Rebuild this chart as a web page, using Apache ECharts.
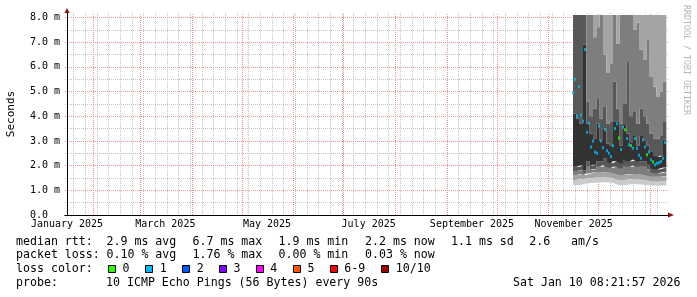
<!DOCTYPE html>
<html><head><meta charset="utf-8">
<script src="https://cdn.jsdelivr.net/npm/echarts@6/dist/echarts.min.js"></script>
<style>html,body{margin:0;padding:0;background:#fff}#c{width:697px;height:297px}</style>
</head><body><div id="c"></div>
<script>
// ---------- time reference ----------
const START = Date.UTC(2025, 0, 16);
const DAY = 86400000;
const dayOf = s => (Date.parse(s + 'T00:00:00Z') - START) / DAY;
const X_MAX = 360;                 // days shown
const msOf = d => START + d * DAY;

// ---------- tick labels ----------
const monthLabels = ['January 2025', 'March 2025', 'May 2025', 'July 2025', 'September 2025', 'November 2025'];
const monthLabelDates = ['2025-01-16', '2025-03-16', '2025-05-16', '2025-07-16', '2025-09-16', '2025-11-16'];
const monthStarts = ['2025-02-01', '2025-03-01', '2025-04-01', '2025-05-01', '2025-06-01', '2025-07-01',
  '2025-08-01', '2025-09-01', '2025-10-01', '2025-11-01', '2025-12-01', '2026-01-01'];
const firstMonday = '2025-01-20';
const yTicks = [0, 1, 2, 3, 4, 5, 6, 7, 8];
const yMinor = [0.5, 1.5, 2.5, 3.5, 4.5, 5.5, 6.5, 7.5];
const Y_MAX = 8.1;

// ---------- smoke (10 sorted pings per 2-day column, ms) ----------
const smokeStart = 303.6, smokeStep = 2;
const p1 = [1.22,1.22,1.22,1.25,1.28,1.30,1.30,1.32,1.32,1.33,1.33,1.32,1.30,1.25,1.22,1.22,1.22,1.25,1.25,1.25,1.25,1.23,1.22,1.20,1.19,1.18,1.18,1.19];
const p2 = [1.42,1.42,1.45,1.45,1.48,1.50,1.50,1.52,1.52,1.53,1.53,1.52,1.50,1.45,1.42,1.42,1.43,1.45,1.45,1.45,1.45,1.43,1.42,1.38,1.37,1.36,1.36,1.37];
const p3 = [1.62,1.62,1.65,1.62,1.68,1.70,1.72,1.72,1.72,1.73,1.73,1.72,1.70,1.66,1.62,1.62,1.64,1.66,1.66,1.65,1.65,1.63,1.60,1.57,1.55,1.55,1.55,1.57];
const p4 = [1.78,1.78,1.80,1.70,1.95,1.82,1.85,1.95,1.95,2.02,1.95,1.90,1.95,1.95,1.88,2.00,1.95,1.95,2.00,1.95,1.95,1.95,1.85,1.75,1.70,1.68,1.70,1.74];
const p5 = [1.95,1.95,2.00,1.80,2.18,2.00,2.04,2.18,2.18,2.30,2.18,2.10,2.18,2.18,2.10,2.25,2.18,2.18,2.25,2.18,2.18,2.18,2.04,1.92,1.86,1.84,1.88,1.92];
const p6 = [4.10,3.90,3.70,6.90,3.70,3.30,3.10,3.70,3.00,3.50,2.90,2.80,3.80,3.80,2.80,3.65,3.30,2.95,3.20,2.80,3.20,3.00,2.80,2.55,2.40,2.35,2.40,3.05];
const p7 = [8.30,8.30,8.30,8.30,4.60,4.00,4.30,4.70,3.90,4.40,3.70,3.80,5.40,4.30,3.70,4.50,6.20,4.00,4.20,3.70,4.30,4.00,3.70,3.30,3.10,3.10,3.20,3.80];
const p8 = [8.30,8.30,8.30,8.30,8.30,8.30,7.20,7.60,8.30,6.50,5.75,6.15,8.30,6.95,8.30,8.30,8.30,8.30,7.50,7.80,6.70,6.30,7.10,5.60,5.20,4.80,5.00,5.40];
const p9 = [8.35,8.35,8.35,8.35,8.35,8.35,8.35,8.35,8.35,8.35,8.35,8.35,8.35,8.35,8.35,8.35,8.35,8.35,8.35,8.35,8.35,8.35,8.35,8.35,8.35,8.35,8.35,8.35];
const p10 = [8.40,8.40,8.40,8.40,8.40,8.40,8.40,8.40,8.40,8.40,8.40,8.40,8.40,8.40,8.40,8.40,8.40,8.40,8.40,8.40,8.40,8.40,8.40,8.40,8.40,8.40,8.40,8.40];

// ---------- median rtt (ms) and loss class per 1.2-day step ----------
const medStart = 303.6, medStep = 1.2;
const median = [4.95,5.5,4.0,5.2,4.05,3.8,6.7,3.35,3.72,2.75,3.0,2.55,2.5,3.6,3.0,2.72,3.45,2.6,2.5,2.37,2.8,3.5,3.7,3.12,2.65,3.55,3.45,3.1,2.85,2.8,2.7,3.1,2.7,2.42,2.3,3.05,2.75,2.44,2.55,2.24,2.15,2.04,2.1,2.12,2.17,2.3,2.94];
const medianLoss = [1,1,1,1,1,1,1,1,1,1,1,1,1,1,1,1,1,1,1,1,1,1,1,0,1,1,0,1,1,0,1,1,1,1,1,1,1,0,1,1,0,1,1,1,1,1,1];

// ---------- legend ----------
const lossColors = ['#26ff00', '#00b8ff', '#0059ff', '#7e00ff', '#ff00ff', '#ff5500', '#ff0000', '#a00000'];
const lossLabels = ['0', '1', '2', '3', '4', '5', '6-9', '10/10'];
const rttStats = ['2.9 ms avg', '6.7 ms max', '1.9 ms min', '2.2 ms now', '1.1 ms sd'];
const amPerS = '2.6';
const lossStats = ['0.10 % avg', '1.76 % max', '0.00 % min', '0.03 % now'];
const probeText = '10 ICMP Echo Pings (56 Bytes) every 90s';
const dateText = 'Sat Jan 10 08:21:57 2026';

// ---------- build ----------
const FONT = 'DejaVu Sans Mono';
const GRAY = '#c4c4c4', RED = '#f09090';
const labelDays = monthLabelDates.map(dayOf);
const monthDays = monthStarts.map(dayOf);
const weekDays = [];
for (let d = dayOf(firstMonday); d <= X_MAX; d += 7) if (monthDays.indexOf(d) < 0) weekDays.push(d);

const P = [p1, p2, p3, p4, p5, p6, p7, p8, p9, p10];
const shades = ['#cacaca', '#a4a4a4', '#7e7e7e', '#585858', '#323232', '#585858', '#7e7e7e', '#a4a4a4', '#cacaca'];
const nCol = p1.length;
function colSeries(vals) {
  const d = vals.map((v, k) => [msOf(smokeStart + k * smokeStep), v]);
  d.push([msOf(smokeStart + nCol * smokeStep), vals[nCol - 1]]);
  return d;
}
const series = [];
series.push({ type: 'line', stack: 'smoke', step: 'end', symbol: 'none', silent: true,
  lineStyle: { width: 0 }, xAxisIndex: 0, yAxisIndex: 0, z: 2, data: colSeries(p1) });
for (let j = 0; j < 9; j++) {
  const diff = P[j].map((v, k) => P[j + 1][k] - v);
  series.push({ type: 'line', stack: 'smoke', step: 'end', symbol: 'none', silent: true,
    lineStyle: { width: 0 }, areaStyle: { color: shades[j], opacity: 1 },
    xAxisIndex: 0, yAxisIndex: 0, z: 2, data: colSeries(diff) });
}
series.push({ type: 'scatter', symbol: 'rect', symbolSize: [2, 3], silent: true,
  xAxisIndex: 0, yAxisIndex: 0, z: 3,
  data: median.map((v, i) => ({ value: [msOf(medStart + i * medStep), v], itemStyle: { color: lossColors[medianLoss[i]] } })) });

const hidden = { show: false };
const noParts = { axisLine: hidden, axisTick: hidden, axisLabel: hidden, splitLine: hidden };
const grids = [
  { left: 67, top: 15, width: 600, height: 200 },   // 0 plot (series, time axis)
  { left: 67, top: 13, width: 600, height: 202 },   // 1 weekly vertical grid (gray)
  { left: 67, top: 13, width: 600, height: 202 },   // 2 monthly vertical grid (red, long ticks)
  { left: 65, top: 15, width: 604, height: 200 },   // 3 minor horizontal grid (gray)
  { left: 65, top: 15, width: 604, height: 200 },   // 4 major horizontal grid (red, long ticks)
  { left: 65, top: 15, width: 603, height: 200 },   // 5 x axis arrow
  { left: 65, top: 15, width: 603, height: 200 },   // 6 x axis line
  { left: 67, top: 13, width: 600, height: 202 },   // 7 y axis arrow
  { left: 67, top: 13, width: 600, height: 202 },   // 8 y axis line
  { left: 67, top: 15, width: 600, height: 200 }    // 9 tick labels
].map(g => Object.assign({ containLabel: false, outerBoundsMode: 'none' }, g));

const dummyX = gi => ({ gridIndex: gi, type: 'value', min: 0, max: 1, show: false });
const dummyY = gi => ({ gridIndex: gi, type: 'value', min: 0, max: 1, show: false });

const xAxes = [
  { gridIndex: 0, type: 'time', min: msOf(0), max: msOf(X_MAX), show: false },
  Object.assign({}, noParts, { gridIndex: 1, type: 'value', min: 0, max: X_MAX, position: 'bottom',
    axisTick: { show: false, customValues: weekDays },
    splitLine: { show: true, lineStyle: { color: GRAY, width: 1, type: [1, 1] } } }),
  Object.assign({}, noParts, { gridIndex: 2, type: 'value', min: 0, max: X_MAX, position: 'bottom', z: 1,
    axisTick: { show: true, inside: true, length: 202, customValues: monthDays,
      lineStyle: { color: RED, width: 1, type: [1, 1] } } }),
  dummyX(3), dummyX(4),
  Object.assign({}, noParts, { gridIndex: 5, type: 'value', min: 0, max: 1, position: 'bottom',
    axisLine: { show: true, onZero: false, symbol: ['none', 'triangle'], symbolSize: [5, 6], symbolOffset: [0, 3],
      lineStyle: { color: '#8b1010', width: 1 } } }),
  Object.assign({}, noParts, { gridIndex: 6, type: 'value', min: 0, max: 1, position: 'bottom', z: 6,
    axisLine: { show: true, onZero: false, lineStyle: { color: '#000', width: 1 } } }),
  dummyX(7), dummyX(8),
  Object.assign({}, noParts, { gridIndex: 9, type: 'value', min: 0, max: X_MAX, position: 'bottom',
    axisLabel: { show: true, customValues: labelDays, margin: 4, color: '#000', fontFamily: FONT, fontSize: 10, lineHeight: 10,
      formatter: v => monthLabels[labelDays.indexOf(v)] || '' } })
];
const yAxes = [
  { gridIndex: 0, type: 'value', min: 0, max: Y_MAX, show: false },
  dummyY(1), dummyY(2),
  Object.assign({}, noParts, { gridIndex: 3, type: 'value', min: 0, max: Y_MAX, position: 'left',
    axisTick: { show: false, customValues: yMinor },
    splitLine: { show: true, lineStyle: { color: GRAY, width: 1, type: [1, 1] } } }),
  Object.assign({}, noParts, { gridIndex: 4, type: 'value', min: 0, max: Y_MAX, position: 'left', z: 1,
    axisTick: { show: true, inside: true, length: 604, customValues: yTicks.filter(v => v > 0),
      lineStyle: { color: RED, width: 1, type: [1, 1] } } }),
  dummyY(5), dummyY(6),
  Object.assign({}, noParts, { gridIndex: 7, type: 'value', min: 0, max: 1, position: 'left',
    axisLine: { show: true, onZero: false, symbol: ['none', 'triangle'], symbolSize: [5, 5], symbolOffset: [0, 2.5],
      lineStyle: { color: '#8b1010', width: 1 } } }),
  Object.assign({}, noParts, { gridIndex: 8, type: 'value', min: 0, max: 1, position: 'left', z: 6,
    axisLine: { show: true, onZero: false, lineStyle: { color: '#000', width: 1 } } }),
  Object.assign({}, noParts, { gridIndex: 9, type: 'value', min: 0, max: Y_MAX, position: 'left',
    axisLabel: { show: true, customValues: yTicks, margin: 37, align: 'left', color: '#000', fontFamily: FONT, fontSize: 10,
      formatter: v => v === 0 ? '0.0' : v.toFixed(1) + ' m' } })
];

// legend graphics
const LF = 11.6;
const rows = [241.5, 255.2, 268.9, 282.6];
const txt = (x, y, text, extra) => ({ type: 'text', x: x, y: y, silent: true,
  style: Object.assign({ text: text, fontFamily: FONT, fontSize: LF, fill: '#000', align: 'left', verticalAlign: 'middle' }, extra || {}) });
const graphic = [];
graphic.push({ type: 'text', x: 10.8, y: 114, rotation: Math.PI / 2, silent: true,
  style: { text: 'Seconds', fontFamily: FONT, fontSize: 11, fill: '#000', align: 'center', verticalAlign: 'middle' } });
graphic.push({ type: 'text', x: 686.5, y: 5, rotation: -Math.PI / 2, silent: true,
  style: { text: 'RRDTOOL / TOBI OETIKER', fontFamily: FONT, fontSize: 8.3, fill: '#b4b4b4', align: 'left', verticalAlign: 'middle' } });
const colX = [106.5, 192.5, 278.5, 365, 451];
graphic.push(txt(16, rows[0], 'median rtt:'));
rttStats.forEach((s, i) => graphic.push(txt(colX[i], rows[0], s)));
graphic.push(txt(529.3, rows[0], amPerS));
graphic.push(txt(571, rows[0], 'am/s'));
graphic.push(txt(16, rows[1], 'packet loss:'));
lossStats.forEach((s, i) => graphic.push(txt(colX[i], rows[1], s)));
graphic.push(txt(16, rows[2], 'loss color:'));
const boxX = [108, 145.3, 182.3, 219, 255.7, 293, 329.7, 381.3];
lossLabels.forEach((l, i) => {
  graphic.push({ type: 'rect', silent: true, shape: { x: Math.round(boxX[i]) + 0.5, y: 265.5, width: 7, height: 7 },
    style: { fill: lossColors[i], stroke: '#000', lineWidth: 1 } });
  graphic.push(txt(boxX[i] + 14.5, rows[2], l));
});
graphic.push(txt(16, rows[3], 'probe:'));
graphic.push(txt(106, rows[3], probeText));
graphic.push(txt(680.5, rows[3], dateText, { align: 'right' }));

const chart = echarts.init(document.getElementById('c'), null, { renderer: 'canvas' });
chart.setOption({
  animation: false,
  backgroundColor: '#fff',
  grid: grids,
  xAxis: xAxes,
  yAxis: yAxes,
  series: series,
  graphic: graphic
});
</script>
</body></html>
